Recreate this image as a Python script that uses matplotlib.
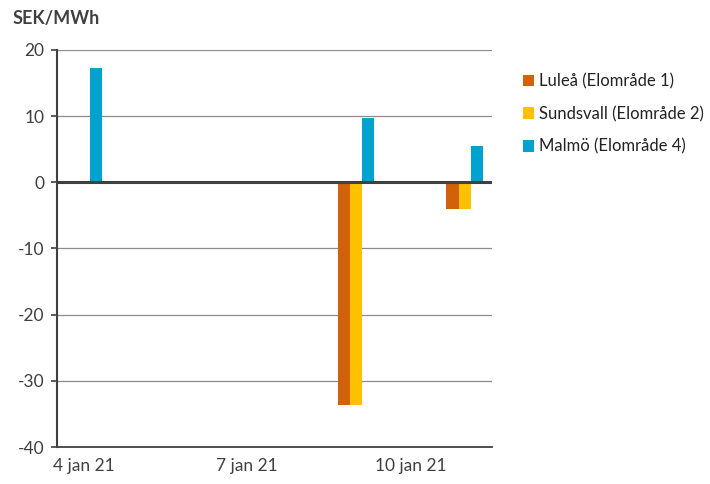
import matplotlib.pyplot as plt
import numpy as np

plt.rcParams['font.family'] = ['Lato', 'DejaVu Sans']
plt.rcParams['axes.unicode_minus'] = False

days = ['4 jan 21', '5 jan 21', '6 jan 21', '7 jan 21', '8 jan 21', '9 jan 21', '10 jan 21', '11 jan 21']
lulea = [0, 0, 0, 0, 0, -33.7, 0, -4.1]
sundsvall = [0, 0, 0, 0, 0, -33.7, 0, -4.1]
malmo = [17.2, 0, 0, 0, 0, 9.7, 0, 5.4]
series_names = ['Luleå (Elområde 1)', 'Sundsvall (Elområde 2)', 'Malmö (Elområde 4)']
series_colors = ['#D2620A', '#FFC000', '#00A3CF']
tick_days = ['4 jan 21', '7 jan 21', '10 jan 21']

txt = '#404040'
fig = plt.figure(figsize=(7.1, 4.84), dpi=100)
ax = fig.add_axes([0.080, 0.0764, 0.613, 0.8206])

x = np.arange(len(days))
w = 0.225
for i, (vals, name, col) in enumerate(zip([lulea, sundsvall, malmo], series_names, series_colors)):
    ax.bar(x + (i - 1) * w, vals, width=w, color=col, label=name, zorder=3)

ax.set_xlim(-0.5, len(days) - 0.5)
ax.set_ylim(-40, 20)
ax.set_yticks(np.arange(-40, 21, 10))
ax.yaxis.grid(True, color='#8c8c8c', linewidth=0.9, zorder=0)
ax.axhline(0, color='#404040', linewidth=2.2, zorder=4)
ax.set_xticks([days.index(d) for d in tick_days])
ax.set_xticklabels(tick_days)
ax.tick_params(axis='x', length=0, pad=8, labelsize=12.5, colors=txt)
ax.tick_params(axis='y', length=4, width=1.2, color='#404040', pad=5, labelsize=12.5, colors=txt)
for s in ['top', 'right']:
    ax.spines[s].set_visible(False)
ax.spines['left'].set_color('#404040')
ax.spines['left'].set_linewidth(1.5)
ax.spines['bottom'].set_color('#404040')
ax.spines['bottom'].set_linewidth(1.3)

fig.text(0.018, 0.962, 'SEK/MWh', fontsize=13, fontweight='bold', color=txt, va='center')

fig.legend(loc='upper left', bbox_to_anchor=(0.715, 0.88), frameon=False,
           fontsize=12, handlelength=0.7, handleheight=0.7, handletextpad=0.3,
           labelspacing=1.0, labelcolor='#222222')

fig.savefig('out.png', dpi=100)
